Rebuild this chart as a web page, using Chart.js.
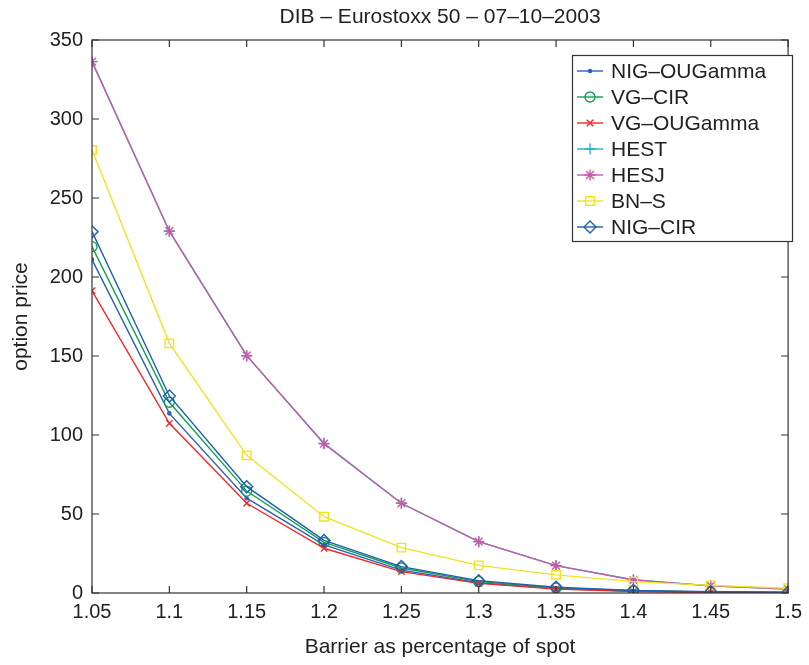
<!DOCTYPE html>
<html>
<head>
<meta charset="utf-8">
<title>DIB – Eurostoxx 50</title>
<script src="https://cdn.jsdelivr.net/npm/chart.js@4.4.1/dist/chart.umd.min.js"></script>
<style>
  html, body { margin: 0; padding: 0; background: #fff; }
  canvas { display: block; }
</style>
</head>
<body>
<canvas id="dib" width="809" height="665"></canvas>
<script>
// barrier levels (fraction of spot) and model prices
const barriers   = [1.05, 1.1, 1.15, 1.2, 1.25, 1.3, 1.35, 1.4, 1.45, 1.5];
const nigOUGamma = [211, 113.7, 60, 30.5, 14.5, 6.5, 2.8, 1.2, 0.6, 0.3];
const vgCIR      = [219.2, 120.7, 64.5, 32, 15.8, 7.2, 3.2, 1.4, 0.7, 0.4];
const vgOUGamma  = [191.3, 107.4, 56.8, 28.3, 13.5, 6.1, 2.5, 0.9, 0.4, 0.2];
const hest       = [336.3, 229, 150.2, 94.7, 56.8, 32.5, 17.3, 8.4, 4.5, 2.5];
const hesj       = [336.3, 229, 150.2, 94.5, 56.8, 32.5, 17.3, 8.2, 4.5, 2.5];
const bns        = [280.4, 158, 87.1, 48.3, 28.7, 17.5, 11.5, 7.2, 4.8, 3];
const nigCIR     = [228.7, 124.7, 67.3, 33.3, 16.7, 7.8, 3.6, 1.6, 0.8, 0.5];

const xTicks = [1.05, 1.1, 1.15, 1.2, 1.25, 1.3, 1.35, 1.4, 1.45, 1.5];
const yTicks = [0, 50, 100, 150, 200, 250, 300, 350];

const FONT = '"Liberation Sans", Arial, Helvetica, sans-serif';
const INK = '#222';

const series = [
  { label: 'NIG–OUGamma', data: nigOUGamma, color: '#2a62b8', style: 'circle',   radius: 1.6, fill: true },
  { label: 'VG–CIR',      data: vgCIR,      color: '#14a050', style: 'circle',   radius: 5 },
  { label: 'VG–OUGamma',  data: vgOUGamma,  color: '#ee2a2a', style: 'crossRot', radius: 4.5 },
  { label: 'HEST',        data: hest,       color: '#22b2c9', style: 'cross',    radius: 5.5 },
  { label: 'HESJ',        data: hesj,       color: '#c95aa8', style: 'star',     radius: 5.5 },
  { label: 'BN–S',        data: bns,        color: '#f0e41e', style: 'rect',     radius: 6 },
  { label: 'NIG–CIR',     data: nigCIR,     color: '#1e5fae', style: 'rectRot',  radius: 6 }
];

const toPoints = vals => vals.map((v, i) => ({ x: barriers[i], y: v }));

// matlab-style frame: full box with inward ticks on all four sides
const framePlugin = {
  id: 'frame',
  afterDraw(chart) {
    const { ctx, chartArea: a, scales } = chart;
    const len = 7;
    ctx.save();
    ctx.strokeStyle = '#333';
    ctx.lineWidth = 1.2;
    ctx.strokeRect(a.left, a.top, a.right - a.left, a.bottom - a.top);
    ctx.beginPath();
    xTicks.forEach(t => {
      const px = scales.x.getPixelForValue(t);
      ctx.moveTo(px, a.bottom); ctx.lineTo(px, a.bottom - len);
      ctx.moveTo(px, a.top);    ctx.lineTo(px, a.top + len);
    });
    yTicks.forEach(t => {
      const py = scales.y.getPixelForValue(t);
      ctx.moveTo(a.left, py);  ctx.lineTo(a.left + len, py);
      ctx.moveTo(a.right, py); ctx.lineTo(a.right - len, py);
    });
    ctx.stroke();
    ctx.restore();
  }
};

// boxed legend in the upper right corner: line sample + marker + name
const legendPlugin = {
  id: 'boxLegend',
  afterDraw(chart) {
    const { ctx } = chart;
    const box = { x: 572.5, y: 55.5, w: 220, h: 186 };
    ctx.save();
    ctx.fillStyle = '#fff';
    ctx.fillRect(box.x, box.y, box.w, box.h);
    ctx.strokeStyle = '#333';
    ctx.lineWidth = 1.2;
    ctx.strokeRect(box.x, box.y, box.w, box.h);
    ctx.font = '21px ' + FONT;
    ctx.textBaseline = 'middle';
    chart.data.datasets.forEach((ds, i) => {
      const y = 71 + i * 26;
      ctx.strokeStyle = ds.borderColor;
      ctx.lineWidth = 1.4;
      ctx.beginPath();
      ctx.moveTo(577, y); ctx.lineTo(603, y);
      ctx.stroke();
      ctx.fillStyle = ds.pointBackgroundColor;
      Chart.helpers.drawPoint(ctx, {
        pointStyle: ds.pointStyle,
        radius: ds.pointRadius,
        rotation: 0,
        borderWidth: ds.pointBorderWidth
      }, 590, y);
      ctx.fillStyle = INK;
      ctx.fillText(ds.label, 611, y + 1);
    });
    ctx.restore();
  }
};

new Chart(document.getElementById('dib'), {
  type: 'line',
  data: {
    datasets: series.map((s, i) => ({
      label: s.label,
      data: toPoints(s.data),
      borderColor: s.color,
      borderWidth: 1.4,
      pointStyle: s.style,
      pointRadius: s.radius,
      pointHoverRadius: s.radius,
      pointBorderColor: s.color,
      pointBackgroundColor: s.fill ? s.color : 'rgba(0,0,0,0)',
      pointBorderWidth: 1.4,
      tension: 0,
      order: series.length - i
    }))
  },
  options: {
    responsive: false,
    animation: false,
    layout: { padding: { left: 0, right: 14, top: 0, bottom: 0 } },
    plugins: {
      legend: { display: false },
      tooltip: { enabled: false },
      title: {
        display: true,
        fullSize: false,
        text: 'DIB – Eurostoxx 50 – 07–10–2003',
        color: INK,
        font: { family: FONT, size: 21, weight: 'normal' },
        padding: { top: 5, bottom: 9.8 }
      }
    },
    scales: {
      x: {
        type: 'linear',
        min: 1.05,
        max: 1.5,
        afterBuildTicks: s => { s.ticks = xTicks.map(v => ({ value: v })); },
        afterFit: s => { s.height = 72; },
        grid: { display: false, drawTicks: false },
        border: { display: false },
        ticks: {
          color: INK,
          font: { family: FONT, size: 20 },
          padding: 7,
          maxRotation: 0,
          autoSkip: false,
          callback: v => String(v)
        },
        title: {
          display: true,
          text: 'Barrier as percentage of spot',
          color: INK,
          font: { family: FONT, size: 21 },
          padding: { top: 0, bottom: 5 }
        }
      },
      y: {
        type: 'linear',
        min: 0,
        max: 350,
        afterBuildTicks: s => { s.ticks = yTicks.map(v => ({ value: v })); },
        afterFit: s => { s.width = 92; },
        grid: { display: false, drawTicks: false },
        border: { display: false },
        ticks: {
          color: INK,
          font: { family: FONT, size: 20 },
          padding: 9,
          autoSkip: false
        },
        title: {
          display: true,
          text: 'option price',
          color: INK,
          font: { family: FONT, size: 21 },
          padding: { top: 9, bottom: 0 }
        }
      }
    }
  },
  plugins: [framePlugin, legendPlugin]
});
</script>
</body>
</html>
